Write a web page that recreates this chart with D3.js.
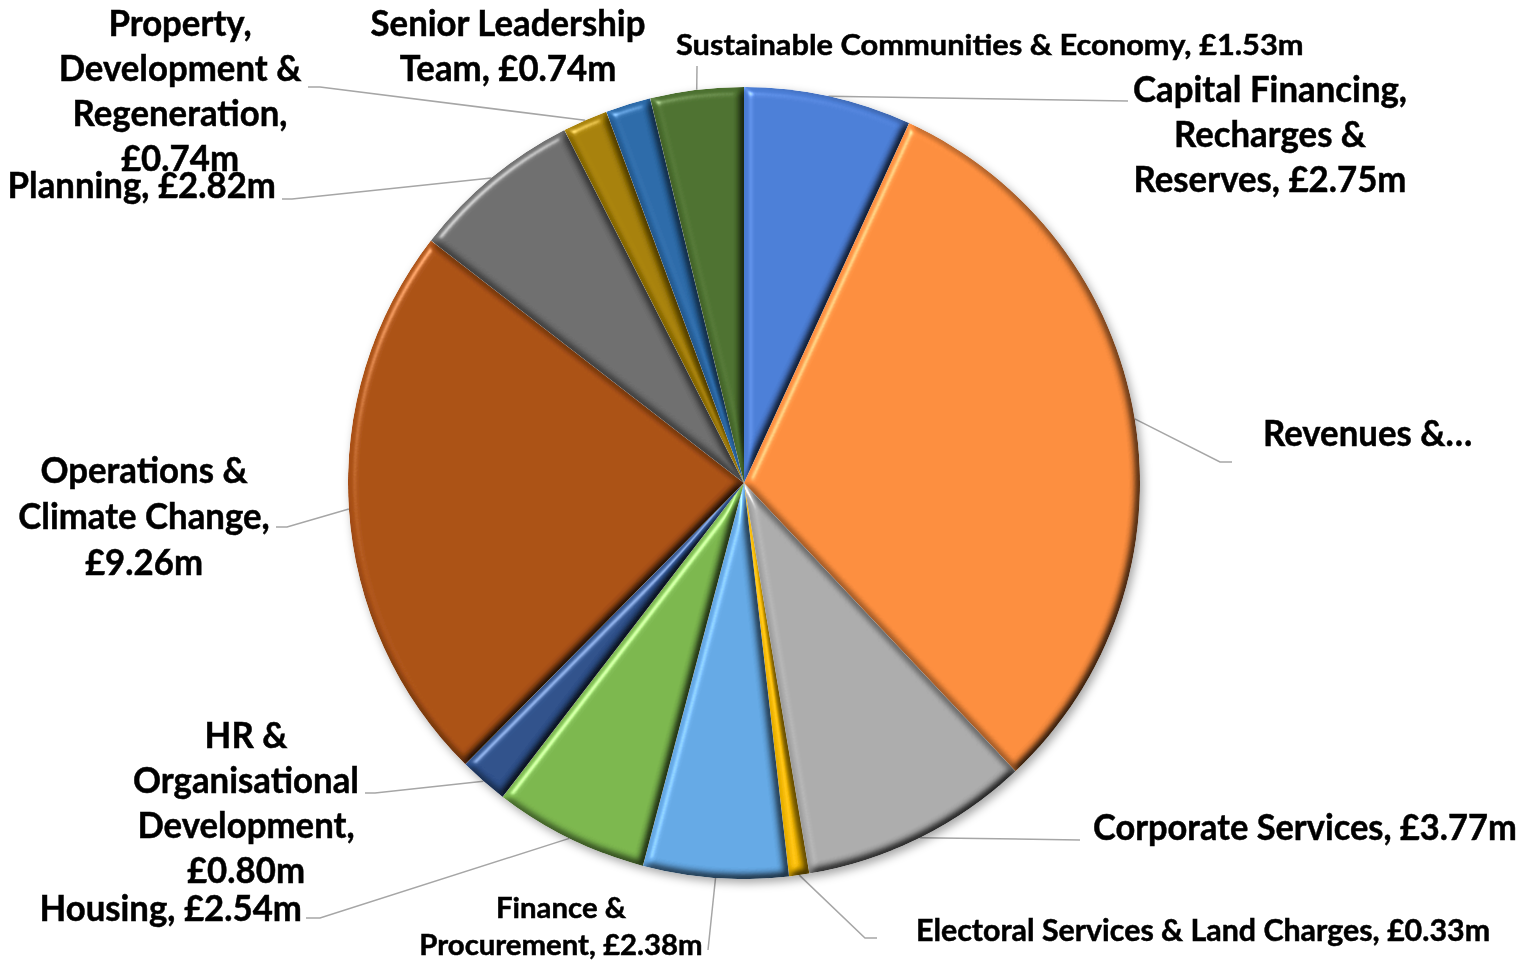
<!DOCTYPE html>
<html>
<head>
<meta charset="utf-8">
<script src="https://cdn.jsdelivr.net/npm/d3@7"></script>
<style>
  html, body { margin: 0; padding: 0; background: #ffffff; }
  svg { display: block; }
  text { font-family: Lato, "Open Sans", "DejaVu Sans", sans-serif; font-weight: 700; fill: #000; stroke: #000; stroke-width: 0.5px; }
</style>
</head>
<body>
<svg id="chart" width="1523" height="966"></svg>
<script>
// ---------------- DATA ----------------
const categories = [
  "Capital Financing, Recharges & Reserves",
  "Revenues & Benefits",
  "Corporate Services",
  "Electoral Services & Land Charges",
  "Finance & Procurement",
  "Housing",
  "HR & Organisational Development",
  "Operations & Climate Change",
  "Planning",
  "Property, Development & Regeneration",
  "Senior Leadership Team",
  "Sustainable Communities & Economy"
];
const values = [2.75, 12.5, 3.77, 0.33, 2.38, 2.54, 0.80, 9.26, 2.82, 0.74, 0.74, 1.53];
const colors = ["#4a7cd4", "#f98b3c", "#a9a9a9", "#f2b705", "#62a6e2", "#79b44c",
                "#2c4e88", "#a84f14", "#6b6b6b", "#a47e07", "#2a68a6", "#4b6f2e"];
const labelLines = [
  ["Capital Financing,", "Recharges &", "Reserves, £2.75m"],
  ["Revenues &…"],
  ["Corporate Services, £3.77m"],
  ["Electoral Services & Land Charges, £0.33m"],
  ["Finance &", "Procurement, £2.38m"],
  ["Housing, £2.54m"],
  ["HR &", "Organisational", "Development,", "£0.80m"],
  ["Operations &", "Climate Change,", "£9.26m"],
  ["Planning, £2.82m"],
  ["Property,", "Development &", "Regeneration,", "£0.74m"],
  ["Senior Leadership", "Team, £0.74m"],
  ["Sustainable Communities & Economy, £1.53m"]
];

// ---------------- LAYOUT ----------------
const W = 1523, H = 966;
const cx = 744, cy = 483, R = 396;
// label layout: anchor, x, first baseline y, line height, font size, horizontal stretch, leader knee & end
const labelLayout = [
  {anchor:"middle", x:1270, y:102, lh:45, fs:37, sx:1,     knee:[1128,101], end:[1128,101]},
  {anchor:"start",  x:1263, y:446, lh:45, fs:37, sx:1,     knee:[1220,462], end:[1232,462]},
  {anchor:"start",  x:1093, y:840, lh:45, fs:37, sx:0.99,  knee:[1080,840], end:[1080,840]},
  {anchor:"start",  x:916,  y:941, lh:45, fs:30, sx:1.077, knee:[865,938],  end:[877,938]},
  {anchor:"middle", x:561,  y:918, lh:37, fs:28, sx:1.115, knee:[708,950],  end:[708,950]},
  {anchor:"end",    x:302,  y:921, lh:45, fs:37, sx:1,     knee:[320,918],  end:[306,918]},
  {anchor:"middle", x:246,  y:748, lh:45, fs:37, sx:1,     knee:[375,793],  end:[365,793]},
  {anchor:"middle", x:144,  y:483, lh:46, fs:37, sx:1,     knee:[287,527],  end:[276,527]},
  {anchor:"end",    x:276,  y:198, lh:45, fs:37, sx:1,     knee:[292,199],  end:[282,199]},
  {anchor:"middle", x:180,  y:36,  lh:45, fs:37, sx:1,     knee:[320,87],   end:[308,87]},
  {anchor:"middle", x:508,  y:36,  lh:45, fs:37, sx:1,     knee:null,       end:null},
  {anchor:"start",  x:676,  y:55,  lh:45, fs:29, sx:1.13,  knee:[697,66],   end:[697,66]}
];

const svg = d3.select("#chart");
const defs = svg.append("defs");

// Bevel filter (light from upper-left)
const bevel = defs.append("filter").attr("id", "bevel")
  .attr("x", "-5%").attr("y", "-5%").attr("width", "110%").attr("height", "110%")
  .attr("color-interpolation-filters", "sRGB");
bevel.append("feGaussianBlur").attr("in", "SourceAlpha").attr("stdDeviation", 4.5).attr("result", "blur");
const diff = bevel.append("feDiffuseLighting").attr("in", "blur").attr("surfaceScale", 6)
  .attr("diffuseConstant", 1.155).attr("lighting-color", "#ffffff").attr("result", "diff");
diff.append("feDistantLight").attr("azimuth", 225).attr("elevation", 60);
bevel.append("feComposite").attr("in", "SourceGraphic").attr("in2", "diff")
  .attr("operator", "arithmetic").attr("k1", 1).attr("k2", 0).attr("k3", 0).attr("k4", 0).attr("result", "lit");
const spec = bevel.append("feSpecularLighting").attr("in", "blur").attr("surfaceScale", 5)
  .attr("specularConstant", 0.7).attr("specularExponent", 40).attr("lighting-color", "#ffffff").attr("result", "spec");
spec.append("feDistantLight").attr("azimuth", 225).attr("elevation", 45);
bevel.append("feComposite").attr("in", "spec").attr("in2", "SourceAlpha").attr("operator", "in").attr("result", "specIn");
bevel.append("feComposite").attr("in", "lit").attr("in2", "specIn")
  .attr("operator", "arithmetic").attr("k1", 0).attr("k2", 1).attr("k3", 0.55).attr("k4", 0).attr("result", "sum");
bevel.append("feComposite").attr("in", "sum").attr("in2", "SourceAlpha").attr("operator", "in");

// Drop shadow for the whole pie
const shadow = defs.append("filter").attr("id", "shadow")
  .attr("x", "-10%").attr("y", "-10%").attr("width", "120%").attr("height", "120%");
shadow.append("feDropShadow").attr("dx", 3).attr("dy", 4).attr("stdDeviation", 5)
  .attr("flood-color", "#000").attr("flood-opacity", 0.35);

const pie = d3.pie().sort(null).value(d => d).startAngle(0).endAngle(2 * Math.PI);
const arcs = pie(values);
const arc = d3.arc().innerRadius(0).outerRadius(R);

// leader lines
const lines = svg.append("g").attr("class", "leaders");
arcs.forEach((a, i) => {
  const L = labelLayout[i];
  if (!L.knee) return;
  const mid = (a.startAngle + a.endAngle) / 2;
  const sx = cx + R * Math.sin(mid), sy = cy - R * Math.cos(mid);
  const pts = [[sx, sy], L.knee, L.end];
  lines.append("path")
    .attr("d", d3.line()(pts))
    .attr("fill", "none").attr("stroke", "#a6a6a6").attr("stroke-width", 1.5);
});

// pie
const pieG = svg.append("g").attr("transform", `translate(${cx},${cy})`).attr("filter", "url(#shadow)");
pieG.selectAll("path.slice").data(arcs).enter().append("path")
  .attr("class", "slice")
  .attr("d", arc)
  .attr("fill", (d, i) => colors[i])
  .attr("filter", "url(#bevel)");

// labels
const labelsG = svg.append("g").attr("class", "labels");
// calibration: Calibri-like narrow widths
const probe = labelsG.append("text").attr("font-size", 37).text("Capital Financing,");
const k = 274 / probe.node().getComputedTextLength();
probe.remove();

labelLines.forEach((ls, i) => {
  const L = labelLayout[i];
  ls.forEach((s, j) => {
    const t = labelsG.append("text")
      .attr("x", L.x).attr("y", L.y + j * L.lh)
      .attr("text-anchor", L.anchor)
      .attr("font-size", L.fs)
      .text(s);
    const w = t.node().getComputedTextLength();
    t.attr("textLength", w * k * L.sx).attr("lengthAdjust", "spacingAndGlyphs");
  });
});
</script>
</body>
</html>
